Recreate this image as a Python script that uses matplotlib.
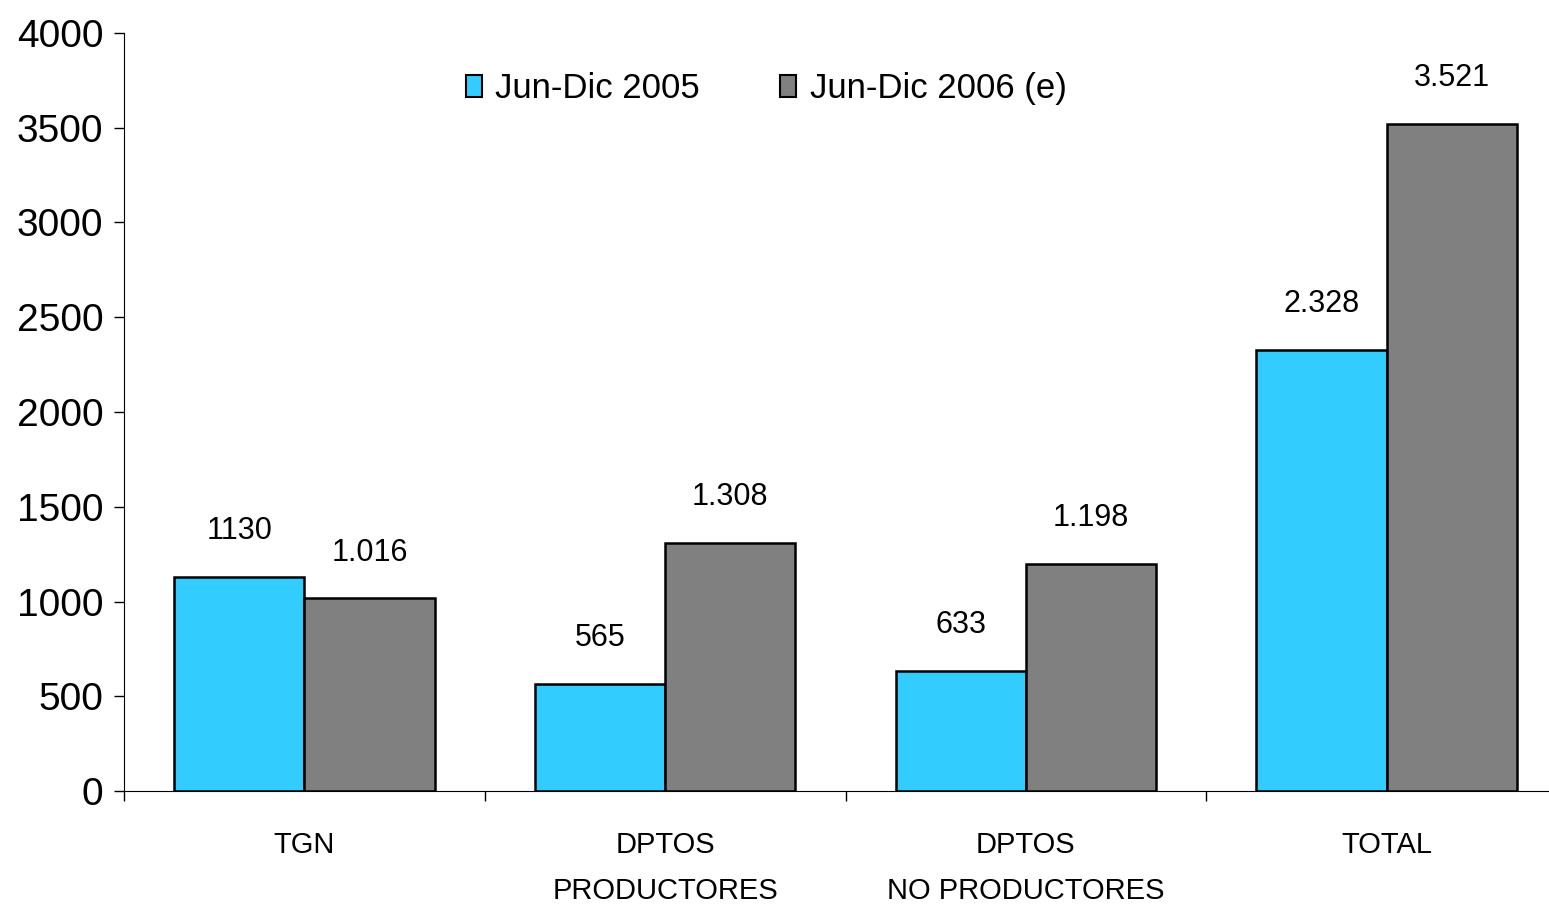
import matplotlib
matplotlib.use("Agg")
import matplotlib.pyplot as plt
import numpy as np

categories = ["TGN", "DPTOS\nPRODUCTORES", "DPTOS\nNO PRODUCTORES", "TOTAL"]
series_names = ["Jun-Dic 2005", "Jun-Dic 2006 (e)"]
values_2005 = [1130, 565, 633, 2328]
values_2006 = [1016, 1308, 1198, 3521]
labels_2005 = ["1130", "565", "633", "2.328"]
labels_2006 = ["1.016", "1.308", "1.198", "3.521"]
yticks = [0, 500, 1000, 1500, 2000, 2500, 3000, 3500, 4000]

plt.rcParams['font.family'] = ["Liberation Sans", "DejaVu Sans"]

fig = plt.figure(figsize=(15.49, 9.05), dpi=100)
ax = fig.add_axes([124/1549, 114/905, 1443/1549, 758/905])

x = np.arange(len(categories))
w = 0.361
b1 = ax.bar(x - w/2, values_2005, w, color="#33CCFF", edgecolor="black", linewidth=1.8, label=series_names[0])
b2 = ax.bar(x + w/2, values_2006, w, color="#808080", edgecolor="black", linewidth=1.8, label=series_names[1])

for bars, labs in ((b1, labels_2005), (b2, labels_2006)):
    for r, t in zip(bars, labs):
        ax.annotate(t, (r.get_x() + r.get_width()/2, r.get_height()), xytext=(0, 33),
                    textcoords="offset points", ha="center", va="center", fontsize=22)

ax.set_xlim(-0.5, 3.5)
ax.set_ylim(0, 4000)
ax.set_yticks(yticks)
ax.set_yticklabels([str(v) for v in yticks], fontsize=28)
ax.set_xticks([-0.5, 0.5, 1.5, 2.5])
ax.set_xticklabels([])
ax.set_xticks(x, minor=True)
ax.set_xticklabels(categories, minor=True, fontsize=21, linespacing=1.8, va="top")
ax.tick_params(axis="x", which="minor", length=0, pad=29)
ax.tick_params(axis="x", which="major", length=7, width=1)
ax.tick_params(axis="y", length=7, width=1, pad=8)
for s in ("top", "right"):
    ax.spines[s].set_visible(False)

leg = ax.legend(loc="upper center", bbox_to_anchor=(0.445, 0.99), ncol=2, frameon=False,
                fontsize=25, handlelength=0.45, handleheight=0.6, columnspacing=2.3, handletextpad=0.4)
for h in leg.legend_handles:
    h.set_linewidth(1.5)

fig.savefig("out.png", dpi=100)
